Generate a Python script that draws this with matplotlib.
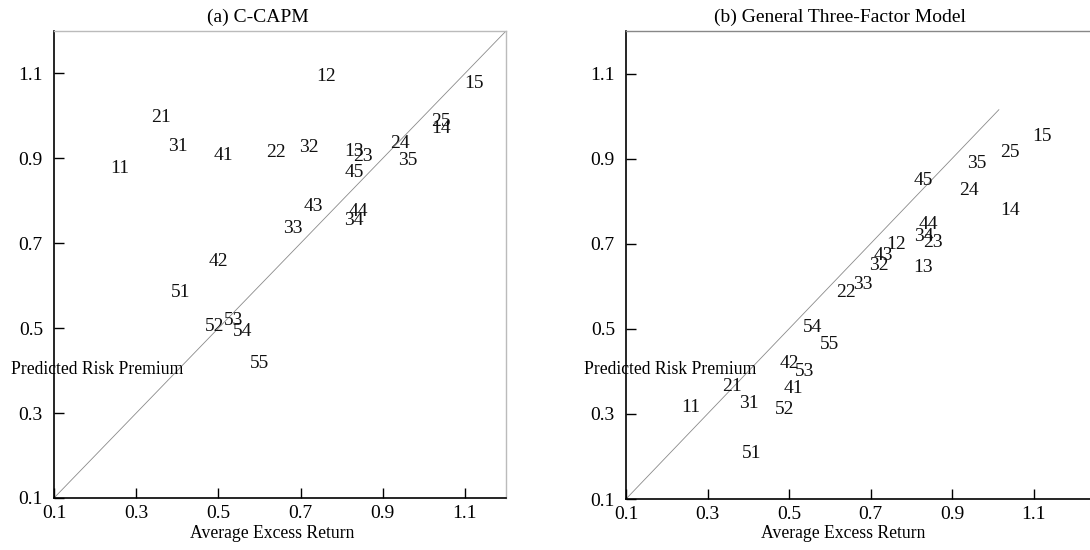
import matplotlib
matplotlib.use("Agg")
import matplotlib.pyplot as plt

plt.rcParams['font.family'] = ['Liberation Serif', 'DejaVu Serif']

portfolios = ['11', '12', '13', '14', '15',
              '21', '22', '23', '24', '25',
              '31', '32', '33', '34', '35',
              '41', '42', '43', '44', '45',
              '51', '52', '53', '54', '55']

avg_excess_return = [0.260, 0.763, 0.830, 1.042, 1.121,
                     0.360, 0.641, 0.852, 0.941, 1.042,
                     0.402, 0.721, 0.680, 0.830, 0.961,
                     0.512, 0.500, 0.731, 0.841, 0.830,
                     0.408, 0.490, 0.538, 0.559, 0.600]

pred_ccapm = [0.876, 1.093, 0.915, 0.970, 1.076,
              0.996, 0.913, 0.905, 0.935, 0.988,
              0.928, 0.926, 0.735, 0.754, 0.895,
              0.907, 0.658, 0.787, 0.776, 0.867,
              0.584, 0.503, 0.519, 0.493, 0.417]

pred_three_factor = [0.315, 0.698, 0.643, 0.779, 0.953,
                     0.365, 0.585, 0.703, 0.825, 0.915,
                     0.324, 0.648, 0.604, 0.716, 0.889,
                     0.359, 0.418, 0.673, 0.745, 0.849,
                     0.206, 0.310, 0.400, 0.503, 0.463]

ticks = [0.1, 0.3, 0.5, 0.7, 0.9, 1.1]
tick_labels = ['0.1', '0.3', '0.5', '0.7', '0.9', '1.1']

diag_a = [0.1, 1.2]
diag_b = [0.1, 1.015]

titles = ['(a) C-CAPM', '(b) General Three-Factor Model']
xlabel = 'Average Excess Return'
ylabel = 'Predicted Risk Premium'

W, H = 1090, 550
fig = plt.figure(figsize=(W / 100, H / 100), dpi=100)

ax1 = fig.add_axes([54 / W, (H - 498) / H, 452 / W, 467 / H])
ax2 = fig.add_axes([626 / W, (H - 499) / H, (W - 626) / W, 468 / H])

panels = [
    (ax1, pred_ccapm, diag_a, (1.2, 1.2), '#bbbbbb', True, titles[0], 258, 272.5, 11, 369),
    (ax2, pred_three_factor, diag_b, (0.1 + (W - 626) / 407.5, 1.2), '#888888', False, titles[1], 840, 843, 584, 370),
]

for ax, yvals, diag, lims, topcol, showright, title, tx, lx, yx, yy in panels:
    ax.set_xlim(0.1, lims[0])
    ax.set_ylim(0.1, lims[1])
    ax.plot(diag, diag, color='#8a8a8a', lw=0.6, zorder=1)
    for lab, xv, yv in zip(portfolios, avg_excess_return, yvals):
        ax.text(xv, yv, lab, ha='center', va='center', fontsize=14, color='#111111', zorder=3)
    ax.set_xticks(ticks)
    ax.set_xticklabels(tick_labels)
    ax.set_yticks(ticks)
    ax.set_yticklabels(tick_labels)
    ax.tick_params(direction='in', length=7, width=1, labelsize=14, colors='black')
    ax.tick_params(axis='x', pad=5)
    ax.tick_params(axis='y', pad=8)
    ax.tick_params(top=False, right=False)
    for s in ['left', 'bottom']:
        ax.spines[s].set_color('black')
        ax.spines[s].set_linewidth(1.2)
    ax.spines['top'].set_color(topcol)
    ax.spines['top'].set_linewidth(1.0)
    if showright:
        ax.spines['right'].set_color('#bbbbbb')
        ax.spines['right'].set_linewidth(1.0)
    else:
        ax.spines['right'].set_visible(False)
    fig.text(tx / W, 1 - 17 / H, title, ha='center', va='center', fontsize=14)
    fig.text(lx / W, 1 - 534 / H, xlabel, ha='center', va='center', fontsize=12.7)
    fig.text(yx / W, 1 - yy / H, ylabel, ha='left', va='center', fontsize=12.7, zorder=5)

fig.savefig('out.png', dpi=100)
